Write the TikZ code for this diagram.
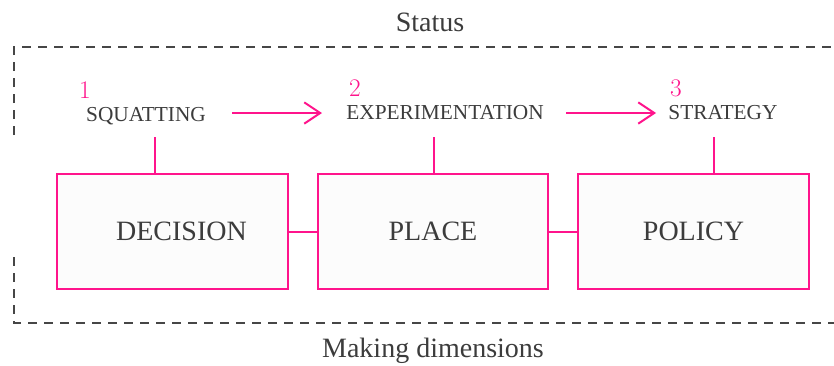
\documentclass[tikz,border=0pt]{standalone}
\usepackage{fontspec}
\setmainfont{Liberation Serif}
\newfontfamily\numfont{Latin Modern Roman}
\usetikzlibrary{arrows.meta}
\definecolor{pinkc}{RGB}{255,20,140}
\definecolor{textc}{RGB}{60,60,60}
\definecolor{dashc}{RGB}{70,70,70}
\definecolor{boxfill}{RGB}{252,252,252}
\tikzset{
  stagebox/.style={draw=pinkc, line width=1.5pt, fill=boxfill, minimum width=173pt, minimum height=86.5pt, inner sep=0pt, text=textc, font=\fontsize{21}{24}\selectfont},
  stagelabel/.style={text=textc, font=\fontsize{16}{18}\selectfont, inner sep=0pt},
  numlabel/.style={text=pinkc, font=\numfont\fontsize{19}{22}\selectfont, inner sep=0pt},
  caption/.style={text=textc, font=\fontsize{21}{24}\selectfont, inner sep=0pt},
  pinkline/.style={draw=pinkc, line width=1.5pt},
  pinkarrow/.style={pinkline, -{Straight Barb[length=12pt,width=16pt,line width=1.5pt]}},
  border/.style={draw=dashc, line width=1.5pt, dash pattern=on 6.75pt off 5.25pt}
}
\begin{document}
\begin{tikzpicture}[x=0.75pt, y=-0.75pt]
\useasboundingbox (0,0) rectangle (834,365);
% dashed border
\coordinate (bTL) at (14,47);
\coordinate (bTR) at (840,47);
\coordinate (bL1) at (14,135);
\coordinate (bL2) at (14,257);
\coordinate (bBL) at (14,323);
\coordinate (bBR) at (840,323);
\draw[border] (bL1) -- (bTL) -- (bTR);
\draw[border] (bL2) -- (bBL) -- (bBR);
% captions
\node[caption] (status) at (430,22) {Status};
\node[caption] (making) at (433,351) {Making dimensions};
% boxes
\node[stagebox] (b1) at (172.5,231.5) {\hspace*{13.5pt}DECISION};
\node[stagebox] (b2) at (433,231.5) {PLACE};
\node[stagebox] (b3) at (693.5,231.5) {POLICY};
\draw[pinkline] (b1.east) -- (b2.west);
\draw[pinkline] (b2.east) -- (b3.west);
% labels
\node[stagelabel] (s1) at (146,116) {SQUATTING};
\node[stagelabel] (s2) at (445,113) {EXPERIMENTATION};
\node[stagelabel] (s3) at (723,113) {STRATEGY};
\node[numlabel] (n1) at (85,90) {1};
\node[numlabel] (n2) at (355,88) {2};
\node[numlabel] (n3) at (676,88) {3};
% arrows
\coordinate (a1s) at (232,113);
\coordinate (a1e) at (322,113);
\coordinate (a2s) at (566,113);
\coordinate (a2e) at (656,113);
\draw[pinkarrow] (a1s) -- (a1e);
\draw[pinkarrow] (a2s) -- (a2e);
% vertical links
\coordinate (v1) at (155,137);
\coordinate (v2) at (434,137);
\coordinate (v3) at (714,137);
\draw[pinkline] (v1) -- (v1 |- b1.north);
\draw[pinkline] (v2) -- (v2 |- b2.north);
\draw[pinkline] (v3) -- (v3 |- b3.north);
\end{tikzpicture}
\end{document}
